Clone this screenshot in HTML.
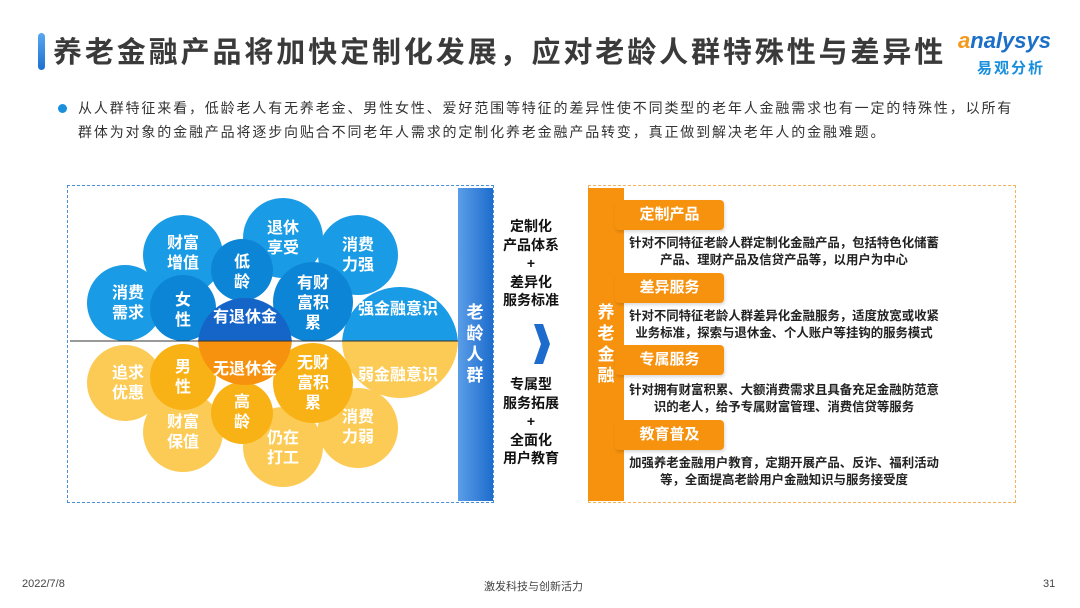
<!DOCTYPE html>
<html><head><meta charset="utf-8">
<style>
body{margin:0;width:1080px;height:608px;overflow:hidden;background:#fff;font-family:"Liberation Sans","Noto Sans CJK SC",sans-serif;position:relative}
.abs{position:absolute}
.title{left:53px;top:36px;font-size:29px;font-weight:bold;color:#3a3a3a;white-space:nowrap;line-height:34px;letter-spacing:2.9px}
.bul{left:78px;font-size:14px;color:#333;letter-spacing:1.85px;white-space:nowrap;line-height:18px}
.tag{left:615px;width:109px;height:30px;background:#f7920e;border-radius:4px;color:#fff;font-weight:bold;font-size:15px;text-align:center;line-height:30px;box-shadow:1px 2px 3px rgba(0,0,0,.15)}
.desc{left:623px;width:322px;text-align:center;font-size:12.4px;font-weight:bold;color:#222;line-height:17px}
.mid{left:496px;width:70px;text-align:center;font-size:14px;font-weight:bold;color:#111;line-height:18.5px}
.foot{font-size:11px;color:#444;top:578px}
</style></head><body>
<div class="abs" style="left:38px;top:33px;width:7px;height:37px;border-radius:4px;background:linear-gradient(#5aa8f0,#1c6fd1)"></div>
<div class="abs title">养老金融产品将加快定制化发展，应对老龄人群特殊性与差异性</div>
<div class="abs" style="left:958px;top:28px;font-size:22px;font-style:italic;color:#1a6fc9;font-weight:bold"><span style="color:#f39a1e">a</span>nalysys</div>
<div class="abs" style="left:977px;top:57px;font-size:15px;color:#1a8fdc;font-weight:bold;letter-spacing:2px">易观分析</div>
<div class="abs" style="left:58px;top:104px;width:9px;height:9px;border-radius:50%;background:#1a8fdc"></div>
<div class="abs bul" style="top:99px">从人群特征来看，低龄老人有无养老金、男性女性、爱好范围等特征的差异性使不同类型的老年人金融需求也有一定的特殊性，以所有</div>
<div class="abs bul" style="top:123px">群体为对象的金融产品将逐步向贴合不同老年人需求的定制化养老金融产品转变，真正做到解决老年人的金融难题。</div>

<div class="abs" style="left:67px;top:185px;width:425px;height:316px;border:1px dashed #4a8fd6"></div>
<div class="abs" style="left:588px;top:185px;width:426px;height:316px;border:1px dashed #f2b35c"></div>

<svg class="abs" style="left:0;top:0" width="1080" height="608">
<defs>
<clipPath id="up"><rect x="0" y="0" width="460" height="341"/></clipPath>
<clipPath id="dn"><rect x="0" y="341" width="460" height="200"/></clipPath>
</defs>
<g clip-path="url(#up)">
<circle cx="400" cy="345" r="58" fill="#1a9be6"/>
<circle cx="125" cy="303" r="38" fill="#1a9be6"/>
<circle cx="183" cy="255" r="40" fill="#1a9be6"/>
<circle cx="283" cy="238" r="40" fill="#1a9be6"/>
<circle cx="358" cy="255" r="40" fill="#1a9be6"/>
<circle cx="242" cy="270" r="31" fill="#0d85d6"/>
<circle cx="183" cy="308" r="33" fill="#0d85d6"/>
<circle cx="313" cy="302" r="40" fill="#0d85d6"/>
<circle cx="245" cy="345" r="47" fill="#1565c8"/>
</g>
<g clip-path="url(#dn)">
<circle cx="400" cy="340" r="58" fill="#fccb55"/>
<circle cx="125" cy="383" r="38" fill="#fccb55"/>
<circle cx="183" cy="432" r="40" fill="#fccb55"/>
<circle cx="283" cy="447" r="40" fill="#fccb55"/>
<circle cx="358" cy="428" r="40" fill="#fccb55"/>
<circle cx="242" cy="413" r="31" fill="#f9b216"/>
<circle cx="183" cy="377" r="33" fill="#f9b216"/>
<circle cx="313" cy="383" r="40" fill="#f9b216"/>
<circle cx="245" cy="338" r="47" fill="#f7920f"/>
</g>
<line x1="70" y1="341" x2="458" y2="341" stroke="#333" stroke-width="1"/>
<g fill="#fff" font-weight="bold" font-size="16" text-anchor="middle" font-family="Liberation Sans,Noto Sans CJK SC,sans-serif">
<text x="128" y="298">消费</text><text x="128" y="318">需求</text>
<text x="183" y="248">财富</text><text x="183" y="268">增值</text>
<text x="283" y="233">退休</text><text x="283" y="253">享受</text>
<text x="358" y="250">消费</text><text x="358" y="270">力强</text>
<text x="242" y="267">低</text><text x="242" y="287">龄</text>
<text x="183" y="305">女</text><text x="183" y="325">性</text>
<text x="313" y="288">有财</text><text x="313" y="308">富积</text><text x="313" y="328">累</text>
<text x="245" y="322">有退休金</text>
<text x="398" y="314">强金融意识</text>
<text x="128" y="378">追求</text><text x="128" y="398">优惠</text>
<text x="183" y="427">财富</text><text x="183" y="447">保值</text>
<text x="283" y="443">仍在</text><text x="283" y="463">打工</text>
<text x="358" y="422">消费</text><text x="358" y="442">力弱</text>
<text x="242" y="407">高</text><text x="242" y="427">龄</text>
<text x="183" y="372">男</text><text x="183" y="392">性</text>
<text x="313" y="368">无财</text><text x="313" y="388">富积</text><text x="313" y="408">累</text>
<text x="245" y="374">无退休金</text>
<text x="398" y="380">弱金融意识</text>
</g>
<defs><linearGradient id="bg" x1="0" x2="1"><stop offset="0" stop-color="#5b9ee8"/><stop offset="1" stop-color="#1d6ccd"/></linearGradient></defs>
<rect x="458" y="188" width="35" height="313" fill="url(#bg)"/>
<g fill="#fff" font-weight="bold" font-size="17" text-anchor="middle" font-family="Liberation Sans,Noto Sans CJK SC,sans-serif">
<text x="475" y="318">老</text><text x="475" y="339">龄</text><text x="475" y="360">人</text><text x="475" y="381">群</text>
</g>
<rect x="588" y="188" width="36" height="313" fill="#f7920e"/>
<g fill="#fff" font-weight="bold" font-size="17" text-anchor="middle" font-family="Liberation Sans,Noto Sans CJK SC,sans-serif">
<text x="606" y="318">养</text><text x="606" y="339">老</text><text x="606" y="360">金</text><text x="606" y="381">融</text>
</g>
<path d="M534 324 L543 324 L550 344 L543 364 L534 364 L541 344 Z" fill="#1d6ccd"/>
</svg>

<div class="abs mid" style="top:217px">定制化<br>产品体系<br>+<br>差异化<br>服务标准</div>
<div class="abs mid" style="top:375px">专属型<br>服务拓展<br>+<br>全面化<br>用户教育</div>

<div class="abs tag" style="top:200px">定制产品</div>
<div class="abs desc" style="top:235px">针对不同特征老龄人群定制化金融产品，包括特色化储蓄<br>产品、理财产品及信贷产品等，以用户为中心</div>
<div class="abs tag" style="top:273px">差异服务</div>
<div class="abs desc" style="top:308px">针对不同特征老龄人群差异化金融服务，适度放宽或收紧<br>业务标准，探索与退休金、个人账户等挂钩的服务模式</div>
<div class="abs tag" style="top:345px">专属服务</div>
<div class="abs desc" style="top:382px">针对拥有财富积累、大额消费需求且具备充足金融防范意<br>识的老人，给予专属财富管理、消费信贷等服务</div>
<div class="abs tag" style="top:420px">教育普及</div>
<div class="abs desc" style="top:455px">加强养老金融用户教育，定期开展产品、反诈、福利活动<br>等，全面提高老龄用户金融知识与服务接受度</div>

<div class="abs foot" style="left:22px">2022/7/8</div>
<div class="abs foot" style="left:484px">激发科技与创新活力</div>
<div class="abs foot" style="left:1043px">31</div>
</body></html>
